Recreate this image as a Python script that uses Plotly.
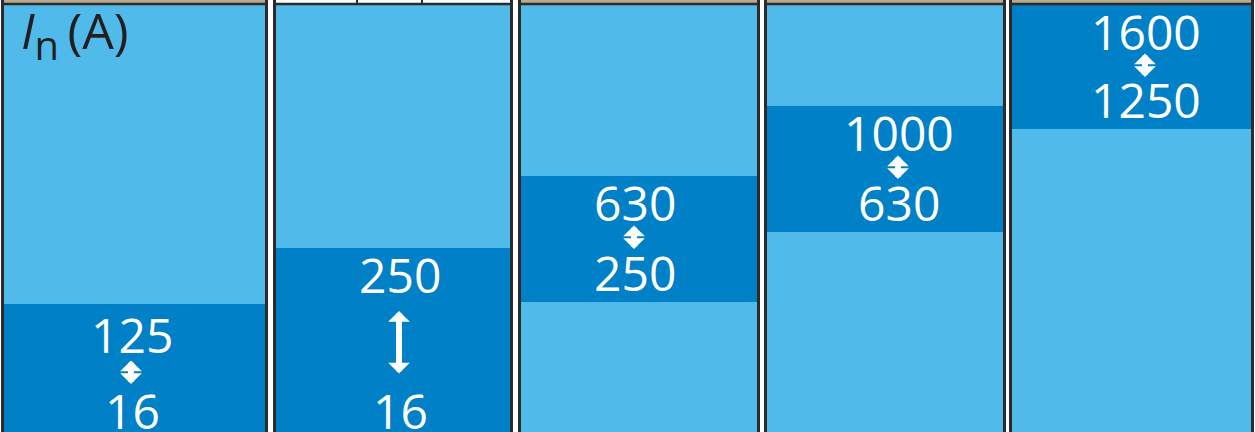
import plotly.graph_objects as go

# Schematic data: rated current ranges per column
high_labels = ["125", "250", "630", "1000", "1600"]
low_labels = ["16", "16", "250", "630", "1250"]
band_low = [0, 0, 130, 200, 303]      # schematic level of range bottom
band_high = [128, 184, 256, 326, 427]  # schematic level of range top
axis_title = "<i>I</i><sub><span style='font-size:40px'>n</span></sub>\u2009(A)"

# layout geometry (pixels)
W, H = 1255, 432
TOP = 427
col_left = [4, 276, 521, 767, 1012]
col_right = [265, 510, 757, 1003, 1251]
label_x = [132, 400, 635, 899, 1146]
centers = [(l + r) / 2 for l, r in zip(col_left, col_right)]
widths = [r - l for l, r in zip(col_left, col_right)]

LIGHT = "#50bbea"
DARK = "#0080c6"
EDGE = "#2b2b2b"
TAN = "#b8aa90"

fig = go.Figure()
fig.add_trace(go.Bar(x=centers, y=[TOP] * 5, base=[0] * 5, width=widths,
                     marker=dict(color=LIGHT, line=dict(width=0)),
                     hoverinfo="skip", showlegend=False))
fig.add_trace(go.Bar(x=centers, y=[h - l for h, l in zip(band_high, band_low)],
                     base=band_low, width=widths,
                     marker=dict(color=DARK, line=dict(width=0)),
                     hoverinfo="skip", showlegend=False))

shapes = []
for i, (l, r) in enumerate(zip(col_left, col_right)):
    # top strip
    shapes.append(dict(type="rect", xref="x", yref="y", x0=l - 3, x1=r + 3,
                       y0=TOP + 1, y1=H + 2, fillcolor=("white" if i == 1 else TAN),
                       line=dict(width=0), layer="above"))
    shapes.append(dict(type="line", xref="x", yref="y", x0=l - 3, x1=r + 3,
                       y0=TOP + 1, y1=TOP + 1, line=dict(color=EDGE, width=2.5),
                       layer="above"))
    # side borders
    for xx in (l - 1.5, r + 1.5):
        shapes.append(dict(type="line", xref="x", yref="y", x0=xx, x1=xx,
                           y0=-5, y1=H + 2, line=dict(color=EDGE, width=3),
                           layer="above"))
# dividers in the white strip of column 2
for xx in (357, 422):
    shapes.append(dict(type="line", xref="x", yref="y", x0=xx, x1=xx,
                       y0=TOP + 1, y1=H + 2, line=dict(color=EDGE, width=2),
                       layer="above"))

annotations = []
FONT = "Open Sans"
for i in range(5):
    cx = label_x[i]
    hy = band_high[i] - (30 if i == 0 else 26)
    ly = band_low[i] + (22 if band_low[i] == 0 else 30)
    annotations.append(dict(x=cx, y=hy, text=high_labels[i], showarrow=False,
                            xref="x", yref="y", xanchor="center", yanchor="middle",
                            font=dict(family=FONT, size=48, color="white")))
    annotations.append(dict(x=cx, y=ly, text=low_labels[i], showarrow=False,
                            xref="x", yref="y", xanchor="center", yanchor="middle",
                            font=dict(family=FONT, size=48, color="white")))
    mid = (hy + ly) / 2 - 1
    length = 64 if i == 1 else 25
    annotations.append(dict(x=cx - 1, y=mid + length / 2, xref="x", yref="y",
                            ax=0, ay=length, text="", showarrow=True,
                            arrowhead=1, arrowside="end+start", arrowsize=0.6,
                            arrowwidth=6, arrowcolor="white", standoff=0,
                            startstandoff=0))

annotations.append(dict(x=19, y=H - 34, xref="x", yref="y", text=axis_title,
                        showarrow=False, xanchor="left", yanchor="middle",
                        font=dict(family=FONT, size=50, color="#231f20")))

fig.update_layout(
    width=W, height=H, margin=dict(l=0, r=0, t=0, b=0),
    paper_bgcolor="white", plot_bgcolor="white",
    barmode="overlay",
    xaxis=dict(range=[0, W], visible=False, fixedrange=True),
    yaxis=dict(range=[0, H], visible=False, fixedrange=True),
    shapes=shapes, annotations=annotations,
)
fig.write_html("out.html", config={"displayModeBar": False},
               post_script="document.body.style.margin='0px';")
